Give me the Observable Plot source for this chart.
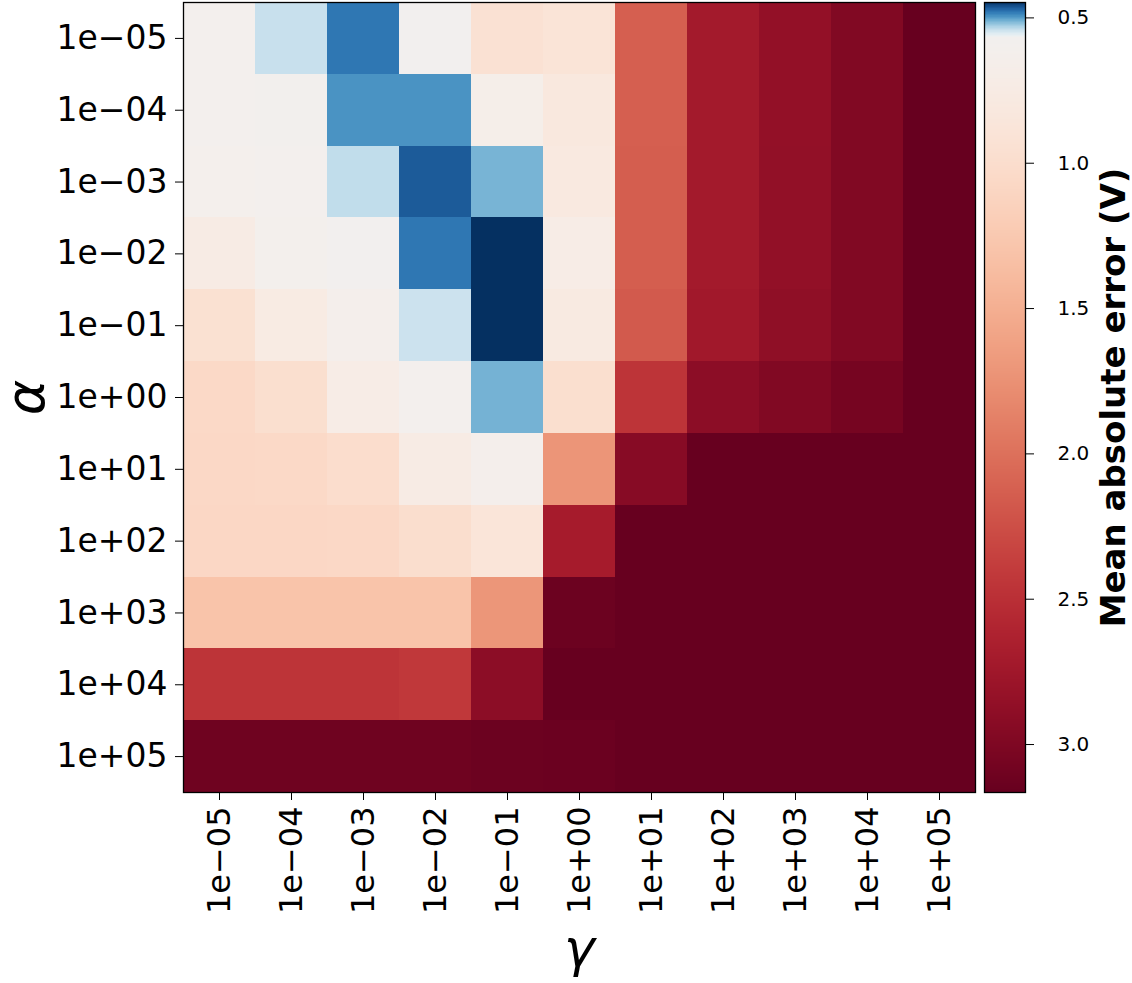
<!DOCTYPE html>
<html>
<head>
<meta charset="utf-8">
<script src="https://cdn.jsdelivr.net/npm/d3@7"></script>
<script src="https://cdn.jsdelivr.net/npm/@observablehq/plot@0.6"></script>
<style>
  body { margin: 0; background: #fff; }
  #wrap { position: relative; width: 1132px; height: 983px; overflow: hidden; font-family: "DejaVu Sans", sans-serif; }
  #wrap svg { position: absolute; top: 0; }
</style>
</head>
<body>
<div id="wrap"></div>
<script>
// Regularisation grid: rows are alpha, columns are gamma
const alphaLabels = ["1e\u221205", "1e\u221204", "1e\u221203", "1e\u221202", "1e\u221201", "1e+00",
                     "1e+01", "1e+02", "1e+03", "1e+04", "1e+05"];
const gammaLabels = ["1e\u221205", "1e\u221204", "1e\u221203", "1e\u221202", "1e\u221201", "1e+00",
                     "1e+01", "1e+02", "1e+03", "1e+04", "1e+05"];

// Mean absolute error (V), one array per alpha value, ordered by gamma
const maeAlpha1em05 = [0.60, 0.543, 0.481, 0.57, 0.94, 0.90, 2.13, 2.72, 2.85, 2.98, 3.165];
const maeAlpha1em04 = [0.60, 0.59, 0.496, 0.496, 0.66, 0.82, 2.13, 2.72, 2.85, 2.98, 3.165];
const maeAlpha1em03 = [0.62, 0.60, 0.54, 0.467, 0.513, 0.80, 2.14, 2.72, 2.86, 2.98, 3.165];
const maeAlpha1em02 = [0.74, 0.61, 0.57, 0.481, 0.447, 0.72, 2.14, 2.72, 2.86, 2.98, 3.165];
const maeAlpha1em01 = [0.95, 0.76, 0.64, 0.545, 0.447, 0.78, 2.17, 2.74, 2.88, 2.98, 3.165];
const maeAlpha1ep00 = [1.06, 0.98, 0.72, 0.60, 0.512, 0.98, 2.46, 2.90, 2.98, 3.06, 3.165];
const maeAlpha1ep01 = [1.07, 1.06, 1.00, 0.75, 0.64, 1.72, 2.94, 3.165, 3.165, 3.165, 3.165];
const maeAlpha1ep02 = [1.08, 1.08, 1.07, 0.99, 0.88, 2.70, 3.165, 3.165, 3.165, 3.165, 3.165];
const maeAlpha1ep03 = [1.30, 1.30, 1.30, 1.30, 1.71, 3.13, 3.165, 3.165, 3.165, 3.165, 3.165];
const maeAlpha1ep04 = [2.46, 2.46, 2.46, 2.43, 2.90, 3.165, 3.165, 3.165, 3.165, 3.165, 3.165];
const maeAlpha1ep05 = [3.11, 3.11, 3.11, 3.11, 3.13, 3.14, 3.165, 3.165, 3.165, 3.165, 3.165];

const colorbarTicks = [0.5, 1.0, 1.5, 2.0, 2.5, 3.0];
const maeMin = 0.447, maeMax = 3.165, maeCenter = 0.57;

const maeRows = [maeAlpha1em05, maeAlpha1em04, maeAlpha1em03, maeAlpha1em02, maeAlpha1em01, maeAlpha1ep00,
                 maeAlpha1ep01, maeAlpha1ep02, maeAlpha1ep03, maeAlpha1ep04, maeAlpha1ep05];
const cells = alphaLabels.flatMap((a, i) =>
  gammaLabels.map((g, j) => ({alpha: a, gamma: g, mae: maeRows[i][j]})));

// Two-slope diverging colour map centred near the best results
const colorOpts = {type: "diverging", scheme: "RdBu", reverse: true,
                   domain: [maeMin, maeMax], pivot: maeCenter, symmetric: false};

const font = {fontFamily: "DejaVu Sans", background: "transparent", overflow: "visible"};

const heat = Plot.plot({
  width: 980, height: 983,
  marginLeft: 183, marginRight: 5, marginTop: 2, marginBottom: 191,
  style: font,
  x: {type: "band", domain: gammaLabels, padding: 0, round: false, axis: null},
  y: {type: "band", domain: alphaLabels, padding: 0, round: false, axis: null},
  color: colorOpts,
  marks: [
    Plot.cell(cells, {x: "gamma", y: "alpha", fill: "mae", inset: 0, shapeRendering: "crispEdges"}),
    Plot.frame({stroke: "black", strokeWidth: 1.3}),
    Plot.axisX({tickRotate: -90, fontSize: 32, tickSize: 8, tickPadding: 6, label: null}),
    Plot.axisY({fontSize: 33, tickSize: 8, tickPadding: 8, label: null}),
    Plot.text(["\u03b3"], {text: d => d, frameAnchor: "bottom", lineAnchor: "middle", dy: 157,
                           fontSize: 52, fontStyle: "italic", textAnchor: "middle"}),
    Plot.text(["\u03b1"], {text: d => d, frameAnchor: "left", lineAnchor: "middle", dx: -157,
                           rotate: -90, fontSize: 54, fontStyle: "italic", textAnchor: "middle"})
  ]
});
heat.style.left = "0px";

// Vertical colour bar drawn from a fine ramp of values
const step = 0.002;
const ramp = d3.range(maeMin, maeMax, step);
const bar = Plot.plot({
  width: 157, height: 983,
  marginLeft: 9, marginRight: 107, marginTop: 2, marginBottom: 191,
  style: font,
  x: {domain: [0, 1], axis: null},
  y: {domain: [maeMin, maeMax], reverse: true, axis: null},
  color: colorOpts,
  marks: [
    Plot.rect(ramp, {x1: 0, x2: 1, y1: d => d, y2: d => Math.min(d + step * 1.6, maeMax),
                     fill: d => d + step / 2, shapeRendering: "crispEdges"}),
    Plot.frame({stroke: "black", strokeWidth: 1.3}),
    Plot.axisY(colorbarTicks, {anchor: "right", tickFormat: d3.format(".1f"), fontSize: 20,
                               tickSize: 8, tickPadding: 24, textAnchor: "start", label: null}),
    Plot.text(["Mean absolute error (V)"], {text: d => d, frameAnchor: "right", lineAnchor: "middle",
                                            dx: 89, dy: 0, rotate: -90, fontSize: 34,
                                            fontWeight: "bold", textAnchor: "middle"})
  ]
});
bar.style.left = "975px";

document.getElementById("wrap").append(heat, bar);
</script>
</body>
</html>
